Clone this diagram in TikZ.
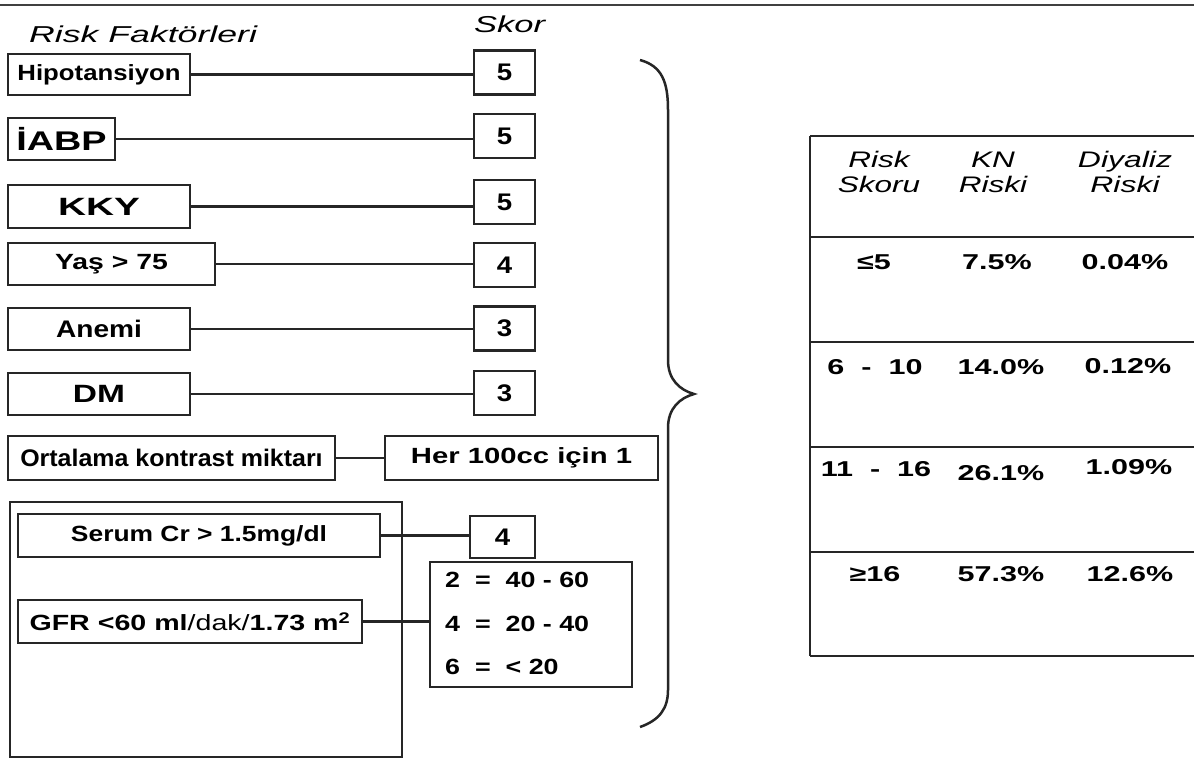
\documentclass[tikz,border=0pt]{standalone}
\usepackage{graphicx}
\usepackage{fontspec}
\newfontfamily\wf{Liberation Sans}
\newcommand{\fsz}[1]{\fontsize{#1}{#1}\selectfont}
\newcommand{\sx}[2]{\scalebox{#1}[1]{#2}}
\begin{document}
\begin{tikzpicture}[x=1pt,y=-1pt,
  box/.style={draw=black!85, line width=2.6pt, inner sep=0pt, font=\wf\bfseries\fsz{22}},
  score/.style={box, minimum width=61pt, minimum height=44pt, font=\wf\bfseries\fsz{24}},
  conn/.style={draw=black!85, line width=2.6pt},
  rule/.style={draw=black!85, line width=2pt},
  ttl/.style={inner sep=0pt, font=\wf\itshape\fsz{23}},
  val/.style={inner sep=0pt, font=\wf\bfseries\fsz{21.5}},
  hdr/.style={inner sep=0pt, align=center, font=\wf\itshape\fontsize{22.5}{25}\selectfont}]
\useasboundingbox (0,0) rectangle (1194,758);
\fill[white] (0,0) rectangle (1194,758);
\draw[black!75, line width=1.2pt] (0,5) -- (1194,5);

% titles
\node[ttl, anchor=base west] (t1) at (29,42) {\sx{1.55}{Risk Faktörleri}};
\node[ttl, anchor=base west] (t2) at (474,32) {\sx{1.5}{Skor}};

% rows
\node[box, minimum width=182pt, minimum height=41pt] (hipo) at (99,74.5) {\sx{1.17}{Hipotansiyon}};
\node[score] (s1) at (504.5,72.5) {\sx{1.15}{5}};
\draw[conn] (hipo.east) -- (hipo.east -| s1.west);

\node[box, minimum width=107pt, minimum height=42pt, font=\wf\bfseries\fsz{27}] (iabp) at (61.5,139) {\sx{1.4}{İABP}\hspace{6pt}};
\node[score] (s2) at (504.5,136) {\sx{1.15}{5}};
\draw[conn] (iabp.east) -- (iabp.east -| s2.west);

\node[box, minimum width=182pt, minimum height=43pt, font=\wf\bfseries\fsz{25}] (kky) at (99,206.5) {\sx{1.55}{KKY}};
\node[score] (s3) at (504.5,202) {\sx{1.15}{5}};
\draw[conn] (kky.east) -- (kky.east -| s3.west);

\node[box, minimum width=207pt, minimum height=42pt] (yas) at (111.5,264) {\sx{1.29}{Yaş > 75}\hspace{30pt}};
\node[score] (s4) at (504.5,265) {\sx{1.15}{4}};
\draw[conn] (yas.east) -- (yas.east -| s4.west);

\node[box, minimum width=182pt, minimum height=42pt, font=\wf\bfseries\fsz{24}] (anemi) at (99,329) {\sx{1.17}{Anemi}\hspace{10pt}};
\node[score] (s5) at (504.5,328.5) {\sx{1.15}{3}};
\draw[conn] (anemi.east) -- (anemi.east -| s5.west);

\node[box, minimum width=182pt, minimum height=42pt, font=\wf\bfseries\fsz{25}] (dm) at (99,394) {\sx{1.34}{DM}};
\node[score] (s6) at (504.5,393) {\sx{1.15}{3}};
\draw[conn] (dm.east) -- (dm.east -| s6.west);

\node[box, minimum width=327pt, minimum height=44pt, font=\wf\bfseries\fsz{24}] (orta) at (171.5,458) {\sx{1.04}{Ortalama kontrast miktarı}};
\node[box, minimum width=273pt, minimum height=44pt] (her) at (521.5,458) {\sx{1.33}{Her 100cc için 1}};
\draw[conn] (orta.east) -- (her.west);

% renal group
\node[box, minimum width=392pt, minimum height=255pt] (grp) at (206,629.5) {};
\node[box, minimum width=362pt, minimum height=43pt] (serum) at (199,535.5) {\sx{1.2}{Serum Cr > 1.5mg/dl}};
\node[score, minimum width=65pt, minimum height=42pt] (s8) at (502.5,537) {\sx{1.15}{4}};
\draw[conn] (serum.east) -- (serum.east -| s8.west);

\node[box, minimum width=344pt, minimum height=43pt] (gfr) at (190,621.5) {\sx{1.3}{GFR <60 ml\mdseries/dak/\bfseries1.73 m\textsuperscript{2}}};
\node[box, minimum width=202pt, minimum height=125pt] (rng) at (531,624.5) {};
\draw[conn] (gfr.east) -- (gfr.east -| rng.west);
\node[val, anchor=west, font=\wf\bfseries\fsz{22}] (r1) at (445,580) {\sx{1.22}{2 \ = \ 40 - 60}};
\node[val, anchor=west, font=\wf\bfseries\fsz{22}] (r2) at (445,624) {\sx{1.22}{4 \ = \ 20 - 40}};
\node[val, anchor=west, font=\wf\bfseries\fsz{22}] (r3) at (445,667) {\sx{1.22}{6 \ = \ < 20}};

% brace
\draw[black!85, line width=2.5pt] (640,60) .. controls (662,66) and (668,82) .. (668,110)
  -- (668,360) .. controls (668,380) and (680,390) .. (694,394)
  .. controls (680,398) and (668,408) .. (668,428)
  -- (668,690) .. controls (668,708) and (660,720) .. (640,727);

% table
\draw[rule] (810,136) -- (810,656);
\foreach \yy in {136,237,342,447,552,656} \draw[rule] (810,\yy) -- (1194,\yy);
\node[hdr] (h1) at (879,172) {\sx{1.4}{Risk}\\\sx{1.4}{Skoru}};
\node[hdr] (h2) at (993,172) {\sx{1.4}{KN}\\\sx{1.4}{Riski}};
\node[hdr] (h3) at (1125,172) {\sx{1.42}{Diyaliz}\\\sx{1.42}{Riski}};

\node[val] (a1) at (874,262) {\sx{1.42}{≤5}};
\node[val] (b1) at (997,262) {\sx{1.42}{7.5\%}};
\node[val] (c1) at (1125,262) {\sx{1.42}{0.04\%}};
\node[val] (a2) at (875,367) {\sx{1.42}{6 \ - \ 10}};
\node[val] (b2) at (1001,367) {\sx{1.42}{14.0\%}};
\node[val] (c2) at (1128,366) {\sx{1.42}{0.12\%}};
\node[val] (a3) at (876,469) {\sx{1.42}{11 \ - \ 16}};
\node[val] (b3) at (1001,473) {\sx{1.42}{26.1\%}};
\node[val] (c3) at (1129,467) {\sx{1.42}{1.09\%}};
\node[val] (a4) at (875,574) {\sx{1.42}{≥16}};
\node[val] (b4) at (1001,574) {\sx{1.42}{57.3\%}};
\node[val] (c4) at (1130,574) {\sx{1.42}{12.6\%}};
\end{tikzpicture}
\end{document}
